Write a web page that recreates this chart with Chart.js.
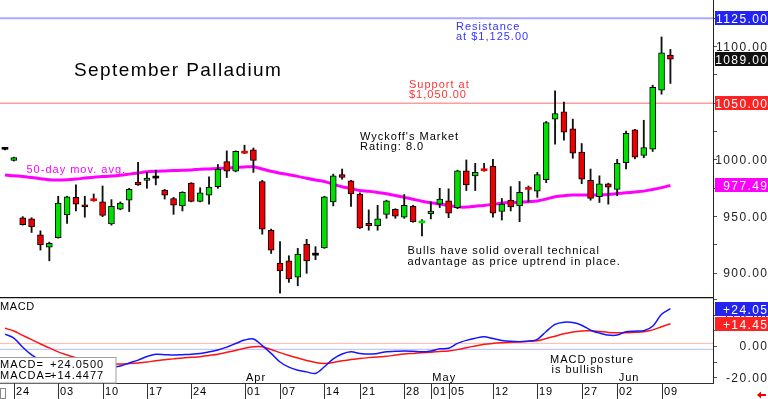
<!DOCTYPE html>
<html>
<head>
<meta charset="utf-8">
<title>September Palladium</title>
<script src="https://cdn.jsdelivr.net/npm/chart.js@4.4.1/dist/chart.umd.min.js"></script>
<style>
	html, body { margin: 0; padding: 0; background: #fff; }
	#wrap { position: relative; width: 768px; height: 399px; overflow: hidden; }
	#price { position: absolute; left: 0; top: 0; }
	#macd { position: absolute; left: 0; top: 297px; }
</style>
</head>
<body>
<div id="wrap">
	<canvas id="price" width="768" height="297"></canvas>
	<canvas id="macd" width="768" height="102"></canvas>
</div>
<script>
// Trading days shown on the chart (2025)
var tradingDays = [
	'02-21', '02-24', '02-25', '02-26', '02-27', '02-28',
	'03-03', '03-04', '03-05', '03-06', '03-07',
	'03-10', '03-11', '03-12', '03-13', '03-14',
	'03-17', '03-18', '03-19', '03-20', '03-21',
	'03-24', '03-25', '03-26', '03-27', '03-28', '03-31',
	'04-01', '04-02', '04-03', '04-04',
	'04-07', '04-08', '04-09', '04-10', '04-11',
	'04-14', '04-15', '04-16', '04-17',
	'04-21', '04-22', '04-23', '04-24', '04-25',
	'04-28', '04-29', '04-30', '05-01', '05-02',
	'05-05', '05-06', '05-07', '05-08', '05-09',
	'05-12', '05-13', '05-14', '05-15', '05-16',
	'05-19', '05-20', '05-21', '05-22', '05-23',
	'05-27', '05-28', '05-29', '05-30',
	'06-02', '06-03', '06-04', '06-05', '06-06',
	'06-09', '06-10'
];

var openPx = [
	1009.4, 999.5, 949, 948, 934, 923, 931.5, 951.5, 967, 960.5,
	964.5, 963, 943.5, 956.5, 964.5, 980.5, 982, 984, 973.5, 966,
	959.5, 979.5, 963.5, 969, 976.5, 998.5, 990, 1006.5, 1009, 981,
	938, 909, 911, 896.5, 925.5, 916, 922.5, 963, 987, 981.5,
	970, 944, 942, 952, 956.5, 949.5, 959, 944.5, 952.5, 961,
	964, 958, 990.5, 986, 991, 994.5, 954.5, 964.5, 959.5, 974.5,
	972.5, 982.5, 1036, 1042.5, 1027.5, 1007, 982, 967.5, 979, 974,
	997.5, 1026.5, 1004, 1009.5, 1061.5, 1092.5
];
var highPx = [
	1010, 1002.5, 950, 949, 937.5, 927.5, 968, 968, 978, 968,
	970, 977, 965, 963, 975, 998, 989, 991, 974, 967,
	972, 980, 975.5, 985, 996, 1008, 1008, 1013, 1010.5, 982,
	939, 928, 915.5, 922, 930, 923.5, 968, 987.5, 992, 982,
	971, 956, 960, 964.5, 957, 969.5, 960, 947.5, 963, 975,
	974.5, 991, 1000, 997, 997, 1000.5, 966, 976.5, 981, 977,
	989, 1034, 1061, 1051, 1036, 1014.5, 992, 986, 979.5, 1000.5,
	1025.5, 1027, 1035, 1066, 1108.5, 1097.5
];
var lowPx = [
	1008.8, 999, 942.5, 936, 920.5, 911, 931, 944, 955, 949.5,
	963.5, 950, 942.5, 956, 954.5, 977.5, 975, 978, 965.5, 952,
	955, 963, 963, 961, 975, 984.5, 989.5, 1005.5, 989, 934.5,
	917.5, 882.5, 892, 889, 900, 912, 922, 959.5, 983, 959,
	939.5, 938, 938, 948.5, 948.5, 948.5, 945, 933, 948, 958,
	949, 957, 973, 973, 990, 949.5, 947, 955, 945.5, 963,
	967, 980, 1014, 1017.5, 1001.5, 979, 964.5, 962.5, 961, 968.5,
	992, 1001, 1002, 1007.5, 1058, 1067.5
];
var closePx = [
	1009.4, 1002, 943, 941, 925, 926.5, 962, 967.5, 961, 958.5,
	964, 951, 959, 962, 974, 978, 984, 984, 969, 960,
	971.5, 963.5, 971, 976, 992, 990, 1007.5, 1006, 999.5, 939,
	920.5, 902, 895, 917, 911, 916, 967.5, 986, 984.5, 970,
	940, 942, 948, 964, 950.5, 960, 945.5, 945, 955, 965.5,
	953, 990.5, 978, 989, 990.5, 953, 961, 958.5, 971.5, 974,
	987, 1033, 1041, 1024.5, 1006, 983, 966, 979, 976, 997,
	1023.5, 1002.5, 1011, 1064, 1094.5, 1089
];

// 50-day moving average
var ma50 = [
	986.8, 986, 985.5, 984.5, 983.5, 982.5, 982.3, 982.6, 983.2, 984,
	984.8, 985.3, 985.8, 986.5, 987.5, 988.5, 989.5, 990, 990.3, 990.6,
	990.9, 991.2, 991.8, 992.1, 992.5, 993, 993.4, 993.8, 994, 992,
	990, 988.3, 987, 985.5, 983.8, 982.3, 981, 978.5, 976.3, 974.8,
	973, 972.3, 971.3, 970.2, 968.7, 967, 965.3, 963.6, 962.3, 961.2,
	959.8, 958.6, 958.4, 959.2, 959.9, 960.8, 961.9, 962.4, 962.7, 963.2,
	963.8, 965.5, 967.5, 968.5, 969, 969.1, 969.1, 969.1, 969.5, 970.3,
	971, 971.7, 972.5, 974, 975.6, 977.49
];

// MACD (blue) and its average (red)
var macdLine = [
	7.8, 5.3, -0.6, -5.5, -9, -11.5, -13, -14, -14.5, -14.5,
	-14, -13.8, -13.3, -12.6, -10.6, -8.8, -6.5, -5.1, -5.3, -5.6,
	-5.3, -5, -4.5, -3.5, -2.3, -0.5, 1.8, 4, 4.7, 0.5,
	-4.5, -10, -13.3, -15.2, -16.3, -17.3, -13, -8, -4.9, -3.5,
	-4.5, -4.9, -4.5, -3.4, -3.2, -3, -3.2, -3.5, -2.9, -1.6,
	-1.2, 1.9, 3.8, 5.2, 6.1, 5, 3.8, 3.2, 3, 3.3,
	4.5, 9.5, 14, 15.4, 15.2, 13.5, 10.3, 8.5, 7.2, 7.2,
	9.3, 9.7, 10, 12.8, 20.5, 24.05
];
var macdAvg = [
	11.5, 9.8, 7, 4.3, 1.5, -1, -3.5, -5.5, -7.2, -8.5,
	-9.8, -10.8, -11.2, -11.3, -11, -10.6, -10, -9.2, -8.6, -8,
	-7.4, -7, -6.6, -5.8, -5, -3.8, -2.6, -1.2, -0.3, -0.3,
	-2, -4, -5.8, -7.5, -9, -10.3, -10.9, -10.3, -9.2, -8.4,
	-7.7, -7.2, -6.8, -6.4, -5.6, -4.9, -4.5, -4.1, -3.7, -3.3,
	-2.9, -2.1, -0.9, 0.2, 1.3, 1.9, 2.3, 2.6, 2.9, 3.2,
	3.6, 5, 6.5, 8, 9.2, 9.8, 10, 9.5, 8.9, 8.7,
	8.7, 9, 9.3, 10.5, 12.5, 14.45
];

// Axis labels
var dateTicks = ['02-24', '03-03', '03-10', '03-17', '03-24', '04-01', '04-07', '04-14', '04-21',
	'04-28', '05-01', '05-05', '05-12', '05-19', '05-27', '06-02', '06-09'];
var monthTicks = ['04-01', '05-01', '06-02'];
var monthNames = ['Apr', 'May', 'Jun'];
var priceTicks = [900, 950, 1000, 1100];
var macdTicks = [20, 0, -20];

var resistance = 1125;
var support = 1050;
var lastPrice = 1089;
var lastMa = 977.49;
var lastMacd = 24.05;
var lastMacdAvg = 14.45;

var FONT = '"Liberation Sans", Arial, sans-serif';
var GREEN = '#00e000';
var RED = '#ee0000';

function drawText(ctx, text, x, y, size, color, spacing, align) {
	ctx.save();
	ctx.font = size + 'px ' + FONT;
	ctx.fillStyle = color;
	ctx.letterSpacing = (spacing || 0) + 'px';
	ctx.textAlign = align || 'left';
	ctx.textBaseline = 'alphabetic';
	ctx.fillText(text, align === 'right' ? x + (spacing || 0) : x, y);
	ctx.restore();
}

function hLine(ctx, x1, x2, y, color, width) {
	ctx.save();
	ctx.strokeStyle = color;
	ctx.lineWidth = width;
	ctx.beginPath();
	ctx.moveTo(x1, y);
	ctx.lineTo(x2, y);
	ctx.stroke();
	ctx.restore();
}

// Coloured value box on the right axis
function tag(ctx, scale, value, text, bg) {
	var y = scale.getPixelForValue(value);
	ctx.save();
	ctx.fillStyle = bg;
	ctx.fillRect(scale.left + 2, Math.round(y) - 7, 768 - scale.left - 2, 14);
	ctx.restore();
	drawText(ctx, text, 767, Math.round(y) + 4.5, 12, '#fff', 1.4, 'right');
}

function candleColor(i) {
	if (closePx[i] > openPx[i]) return GREEN;
	if (closePx[i] < openPx[i]) return RED;
	return '#000';
}

var xRange = { type: 'linear', min: -0.56, max: 79.8, offset: false, display: false };

var priceNotes = {
	id: 'priceNotes',
	beforeDatasetsDraw: function(chart) {
		var ctx = chart.ctx, y = chart.scales.y, area = chart.chartArea;
		hLine(ctx, area.left, area.right, y.getPixelForValue(resistance), '#aaaaff', 2);
		hLine(ctx, area.left, area.right, y.getPixelForValue(support), '#ff9c9c', 1.5);
	},
	afterDraw: function(chart) {
		var ctx = chart.ctx, y = chart.scales.y;

		drawText(ctx, 'September Palladium', 74, 76, 19, '#000', 1.4);
		drawText(ctx, 'Resistance', 456, 29.5, 11, '#3333ff', 1);
		drawText(ctx, 'at $1,125.00', 456, 40, 11, '#3333ff', 1);
		drawText(ctx, 'Support at', 409, 87.5, 11, '#ff3333', 1);
		drawText(ctx, '$1,050.00', 409, 98, 11, '#ff3333', 1);
		drawText(ctx, "Wyckoff's Market", 360, 139.5, 11, '#000', 1);
		drawText(ctx, 'Rating: 8.0', 360, 149.8, 11, '#000', 1);
		drawText(ctx, '50-day mov. avg.', 26.5, 173, 11, '#ff00ff', 1);
		drawText(ctx, 'Bulls have solid overall technical', 407.5, 254, 11, '#000', 1);
		drawText(ctx, 'advantage as price uptrend in place.', 407.5, 264.5, 11, '#000', 1);

		priceTicks.forEach(function(v) {
			drawText(ctx, v.toFixed(2), 767, y.getPixelForValue(v) + 4, 12, '#222', 1.4, 'right');
		});

		tag(ctx, y, resistance, resistance.toFixed(2), '#2424f0');
		tag(ctx, y, lastPrice, lastPrice.toFixed(2), '#111');
		tag(ctx, y, support, support.toFixed(2), '#ff2222');
		tag(ctx, y, lastMa, lastMa.toFixed(2), '#ff00ff');
	}
};

var macdNotes = {
	id: 'macdNotes',
	beforeDatasetsDraw: function(chart) {
		var ctx = chart.ctx, y = chart.scales.y, area = chart.chartArea;
		hLine(ctx, area.left, area.right, y.getPixelForValue(1.9), '#ffb4b4', 1);
		hLine(ctx, area.left, area.right, y.getPixelForValue(-1.9), '#b8b8ff', 1);
	},
	afterDraw: function(chart) {
		var ctx = chart.ctx, x = chart.scales.x, y = chart.scales.y, area = chart.chartArea;

		// Panel frame
		hLine(ctx, 0, area.right, 0.5, '#111', 1.5);
		hLine(ctx, 0, area.right + 1, area.bottom + 0.5, '#333', 1);

		drawText(ctx, 'MACD', 0, 12.5, 11, '#000', 0.6);
		drawText(ctx, 'MACD posture', 550, 65.7, 11, '#000', 1);
		drawText(ctx, 'is bullish', 551.5, 76, 11, '#000', 1);

		// Month names
		monthTicks.forEach(function(d, k) {
			var px = x.getPixelForValue(tradingDays.indexOf(d));
			drawText(ctx, monthNames[k], px + 1.5, 83.5, 11, '#000', 1);
		});

		// Values box
		ctx.save();
		ctx.fillStyle = '#fff';
		ctx.strokeStyle = '#a0a0a0';
		ctx.lineWidth = 1;
		ctx.fillRect(-1, 60.5, 117, 25.5);
		ctx.strokeRect(-1, 60.5, 117, 25.5);
		ctx.restore();
		drawText(ctx, 'MACD=', 0, 70.5, 11, '#000', 1);
		drawText(ctx, '+' + lastMacd.toFixed(4), 50, 70.5, 11, '#000', 1);
		drawText(ctx, 'MACDA=', 0, 81.5, 11, '#000', 1);
		drawText(ctx, '+14.4477', 50, 81.5, 11, '#000', 1);

		// Date row
		dateTicks.forEach(function(d) {
			var px = Math.round(x.getPixelForValue(tradingDays.indexOf(d))) + 0.5;
			ctx.save();
			ctx.strokeStyle = '#333';
			ctx.lineWidth = 1;
			ctx.beginPath();
			ctx.moveTo(px, area.bottom);
			ctx.lineTo(px, 102);
			ctx.stroke();
			ctx.restore();
			drawText(ctx, d.slice(3), px + 1.5, 97.5, 11, '#000', 1);
		});

		// little box bottom left and red arrow bottom right
		ctx.save();
		ctx.strokeStyle = '#888';
		ctx.strokeRect(0.5, 91.5, 5, 10);
		ctx.fillStyle = '#ee0000';
		ctx.beginPath();
		ctx.moveTo(757, 98);
		ctx.lineTo(761, 94.5);
		ctx.lineTo(761, 101.5);
		ctx.closePath();
		ctx.fill();
		ctx.fillRect(760, 97, 6, 2);
		ctx.restore();

		macdTicks.forEach(function(v) {
			var t = (v > 0 ? '+' : '') + v.toFixed(2);
			drawText(ctx, t, 767, y.getPixelForValue(v) + 4, 12, '#222', 1.4, 'right');
		});
		tag(ctx, y, lastMacd, '+' + lastMacd.toFixed(2), '#2424f0');
		tag(ctx, y, lastMacdAvg, '+' + lastMacdAvg.toFixed(2), '#ff2222');
	}
};

function rightAxis(min, max, step) {
	return {
		position: 'right',
		min: min,
		max: max,
		afterFit: function(scale) { scale.width = 55; },
		ticks: { display: false, stepSize: step, includeBounds: false },
		grid: { drawOnChartArea: false, drawTicks: true, tickLength: 4, color: '#555' },
		border: { display: true, color: '#222', width: 1 }
	};
}

var commonOptions = {
	responsive: false,
	animation: false,
	devicePixelRatio: 1,
	events: [],
	layout: { padding: 0 },
	plugins: { legend: { display: false }, tooltip: { enabled: false } }
};

new Chart(document.getElementById('price'), {
	type: 'bar',
	data: {
		datasets: [{
			type: 'line',
			label: '50-day mov. avg.',
			data: ma50.map(function(v, i) { return { x: i, y: v }; }),
			borderColor: '#ff00ff',
			borderWidth: 3,
			pointRadius: 0,
			tension: 0.3,
			order: 3
		}, {
			label: 'range',
			data: lowPx.map(function(v, i) { return { x: i, y: [v, highPx[i]] }; }),
			backgroundColor: '#111',
			barThickness: 1.2,
			grouped: false,
			order: 2
		}, {
			label: 'body',
			data: openPx.map(function(v, i) { return { x: i, y: [v, closePx[i]] }; }),
			backgroundColor: function(c) { return candleColor(c.dataIndex); },
			borderColor: '#000',
			borderWidth: function(c) {
				var i = c.dataIndex;
				return Math.abs(closePx[i] - openPx[i]) < 1.2 ? 0 : 1;
			},
			borderSkipped: false,
			barThickness: 6,
			minBarLength: 2,
			grouped: false,
			order: 1
		}]
	},
	options: Object.assign({}, commonOptions, {
		scales: {
			x: xRange,
			y: rightAxis(879.1, 1141.1, 25)
		}
	}),
	plugins: [priceNotes]
});

new Chart(document.getElementById('macd'), {
	type: 'line',
	data: {
		datasets: [{
			label: 'MACD',
			data: macdLine.map(function(v, i) { return { x: i, y: v }; }),
			borderColor: '#1414ff',
			borderWidth: 1.5,
			pointRadius: 0,
			tension: 0.3
		}, {
			label: 'MACDA',
			data: macdAvg.map(function(v, i) { return { x: i, y: v }; }),
			borderColor: '#ff1414',
			borderWidth: 1.5,
			pointRadius: 0,
			tension: 0.3
		}]
	},
	options: Object.assign({}, commonOptions, {
		layout: { padding: { top: 0, bottom: 16, left: 0, right: 0 } },
		scales: {
			x: xRange,
			y: rightAxis(-23.4, 31.5, 10)
		}
	}),
	plugins: [macdNotes]
});
</script>
</body>
</html>
